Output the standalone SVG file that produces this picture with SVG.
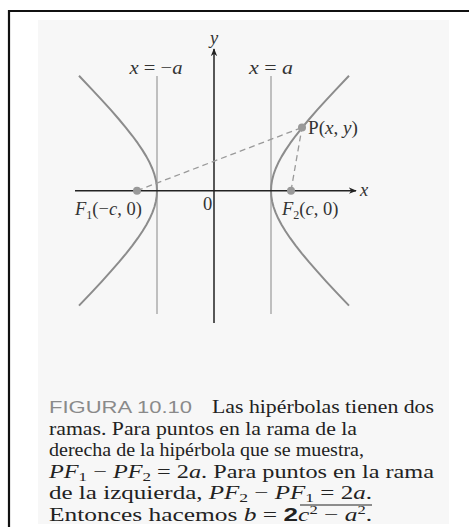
<svg xmlns="http://www.w3.org/2000/svg" width="469" height="527" viewBox="0 0 469 527">
<defs>
<marker id="arr" viewBox="0 0 10 10" refX="9" refY="5" markerWidth="8" markerHeight="8" orient="auto" markerUnits="userSpaceOnUse">
<path d="M0,1 L10,5 L0,9 L3,5 Z" fill="#222"/>
</marker>
<style>
.ax{stroke:#222;stroke-width:1.5;fill:none}
.vl{stroke:#999;stroke-width:1.2;fill:none}
.hy{stroke:#8c8c8c;stroke-width:2;fill:none;stroke-linejoin:round}
.ds{stroke:#9a9a9a;stroke-width:1.3;stroke-dasharray:6 4;fill:none}
.dot{fill:#999}
.m{font-family:"Liberation Serif","Times New Roman",serif;font-size:18.5px;fill:#333}
.i{font-style:italic}
.cap{font-family:"Liberation Serif","Times New Roman",serif;font-size:18.5px;fill:#222}
.fig{font-family:"Liberation Sans",Arial,sans-serif;font-size:16px;fill:#8a8a8a}
</style>
</defs>
<rect x="0" y="0" width="469" height="527" fill="#fff"/>
<path d="M9,527 V11 H469" fill="none" stroke="#111" stroke-width="2.2"/>
<rect x="38" y="20" width="411" height="504" fill="#f7f7f7"/>

<g id="asymptote-lines">
<line class="vl" x1="157" y1="76" x2="157" y2="314"/>
<line class="vl" x1="271" y1="76" x2="271" y2="314"/>
</g>
<g id="hyperbola">
<polyline class="hy" points="349,75.8 336.6,88.82 326.34,99.84 317.21,109.94 309.1,119.25 301.96,127.83 295.69,135.78 290.23,143.19 285.55,150.12 281.57,156.64 278.27,162.82 275.62,168.72 273.58,174.41 272.15,179.93 271.29,185.34 271,190.7 271.29,196.06 272.15,201.47 273.58,206.99 275.62,212.68 278.27,218.58 281.57,224.76 285.55,231.28 290.23,238.21 295.69,245.62 301.96,253.57 309.1,262.15 317.21,271.46 326.34,281.56 336.6,292.58 349,305.6"/>
<polyline class="hy" points="79,75.8 91.4,88.82 101.66,99.84 110.79,109.94 118.9,119.25 126.04,127.83 132.31,135.78 137.77,143.19 142.45,150.12 146.43,156.64 149.73,162.82 152.38,168.72 154.42,174.41 155.85,179.93 156.71,185.34 157,190.7 156.71,196.06 155.85,201.47 154.42,206.99 152.38,212.68 149.73,218.58 146.43,224.76 142.45,231.28 137.77,238.21 132.31,245.62 126.04,253.57 118.9,262.15 110.79,271.46 101.66,281.56 91.4,292.58 79,305.6"/>
</g>
<g id="connectors">
<line class="ax" x1="75" y1="190.7" x2="356" y2="190.7" marker-end="url(#arr)"/>
<line class="ax" x1="214" y1="323" x2="214" y2="49" marker-end="url(#arr)"/>
<line class="ds" x1="137" y1="190.7" x2="302" y2="127.5"/>
<line class="ds" x1="291" y1="190.7" x2="302" y2="127.5"/>
</g>
<g id="F1"><circle class="dot" cx="137" cy="190.7" r="4"/></g>
<g id="F2"><circle class="dot" cx="291" cy="190.7" r="4"/></g>
<g id="P"><circle class="dot" cx="302" cy="127.5" r="4"/></g>

<g id="labels" class="m">
<text x="214" y="44" text-anchor="middle" class="i">y</text>
<text x="360" y="196" class="i">x</text>
<text x="156" y="74" text-anchor="middle" textLength="53" lengthAdjust="spacingAndGlyphs"><tspan class="i">x</tspan> = −<tspan class="i">a</tspan></text>
<text x="271" y="74" text-anchor="middle" textLength="44" lengthAdjust="spacingAndGlyphs"><tspan class="i">x</tspan> = <tspan class="i">a</tspan></text>
<text x="308" y="134" textLength="50" lengthAdjust="spacingAndGlyphs">P(<tspan class="i">x</tspan>, <tspan class="i">y</tspan>)</text>
<text x="75" y="215"><tspan class="i">F</tspan><tspan font-size="12" dy="4">1</tspan><tspan dy="-4">(−<tspan class="i">c</tspan>, 0)</tspan></text>
<text x="203" y="210">0</text>
<text x="282" y="215"><tspan class="i">F</tspan><tspan font-size="12" dy="4">2</tspan><tspan dy="-4">(<tspan class="i">c</tspan>, 0)</tspan></text>
</g>

<g id="caption">
<text class="fig" x="49" y="413" textLength="143" lengthAdjust="spacingAndGlyphs">FIGURA 10.10</text>
<text class="cap" x="212" y="413" textLength="222" lengthAdjust="spacingAndGlyphs">Las hipérbolas tienen dos</text>
<text class="cap" x="49" y="434.5" textLength="308" lengthAdjust="spacingAndGlyphs">ramas. Para puntos en la rama de la</text>
<text class="cap" x="49" y="456" textLength="315" lengthAdjust="spacingAndGlyphs">derecha de la hipérbola que se muestra,</text>
<text class="cap" x="49" y="477.5" textLength="385" lengthAdjust="spacingAndGlyphs"><tspan class="i">PF</tspan><tspan font-size="13" dy="3">1</tspan><tspan dy="-3"> − </tspan><tspan class="i">PF</tspan><tspan font-size="13" dy="3">2</tspan><tspan dy="-3"> = 2</tspan><tspan class="i">a</tspan>. Para puntos en la rama</text>
<text class="cap" x="49" y="499" textLength="323" lengthAdjust="spacingAndGlyphs">de la izquierda, <tspan class="i">PF</tspan><tspan font-size="13" dy="3">2</tspan><tspan dy="-3"> − </tspan><tspan class="i">PF</tspan><tspan font-size="13" dy="3">1</tspan><tspan dy="-3"> = 2</tspan><tspan class="i">a</tspan>.</text>
<line x1="300" y1="505" x2="372" y2="505" stroke="#222" stroke-width="1"/>
<text class="cap" x="49" y="520.5" textLength="323" lengthAdjust="spacingAndGlyphs">Entonces hacemos <tspan class="i">b</tspan> = <tspan font-family="Liberation Sans,Arial,sans-serif" font-weight="bold" font-size="19">2</tspan><tspan class="i">c</tspan><tspan font-size="12" dy="-7">2</tspan><tspan dy="7"> − </tspan><tspan class="i">a</tspan><tspan font-size="12" dy="-7">2</tspan><tspan dy="7">.</tspan></text>
</g>
</svg>
